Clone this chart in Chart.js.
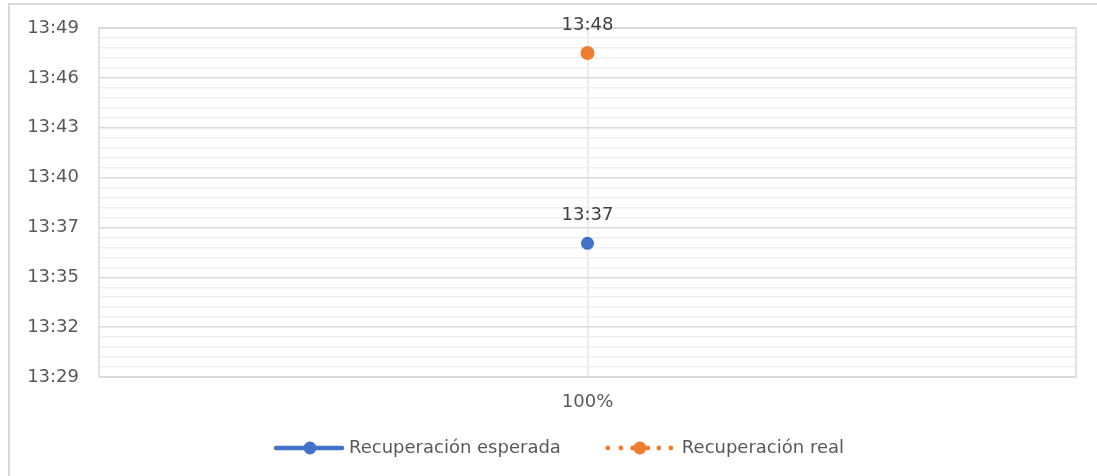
<!DOCTYPE html>
<html>
<head>
<meta charset="utf-8">
<script src="https://cdn.jsdelivr.net/npm/chart.js@4.4.1/dist/chart.umd.min.js"></script>
<style>
  html, body { margin: 0; padding: 0; background: #ffffff; }
  #wrap { width: 1097px; height: 476px; position: relative; }
</style>
</head>
<body>
<div id="wrap"><canvas id="c" width="1097" height="476"></canvas></div>
<script>
// ---- data ----
const categories = ['100%'];
const seriesNames = ['Recuperación esperada', 'Recuperación real'];
const expectedTimes = ['13:37'];
const realTimes = ['13:48'];
const yTickLabels = ['13:29', '13:32', '13:35', '13:37', '13:40', '13:43', '13:46', '13:49'];
// axis in fractions of a day (Excel style)
const yMinDay = 0.562;
const yMaxDay = 0.576;
const yMajorDay = 0.002;
const yMinorDay = 0.0004;

const toMinutes = s => { const p = s.split(':'); return (+p[0]) * 60 + (+p[1]); };
const fmt = m => { const t = Math.floor(m + 1e-6); const h = Math.floor(t / 60), mm = t % 60; return h + ':' + String(mm).padStart(2, '0'); };

const blue = '#4472C4', orange = '#ED7D31';
const FONT = 'DejaVu Sans';

function legendIcon(color, dotted) {
  const c = document.createElement('canvas');
  c.width = 140; c.height = 16;
  const g = c.getContext('2d');
  g.fillStyle = color; g.strokeStyle = color;
  const dot = (x, r) => { g.beginPath(); g.arc(x, 8, r, 0, Math.PI * 2); g.fill(); };
  if (!dotted) {
    g.lineWidth = 4.5; g.lineCap = 'round';
    g.beginPath(); g.moveTo(60, 8); g.lineTo(126, 8); g.stroke();
    dot(94, 6.5);
  } else {
    [59, 72, 99, 110, 122].forEach(x => dot(x, 2.4));
    dot(84, 2.6);
    dot(91, 6.5);
  }
  return c;
}
const icons = [legendIcon(blue, false), legendIcon(orange, true)];

const yTicks = [];
for (let i = 0; i <= Math.round((yMaxDay - yMinDay) / yMinorDay); i++) yTicks.push((yMinDay + i * yMinorDay) * 1440);

const decor = {
  id: 'decor',
  beforeDraw(chart) {
    const ctx = chart.ctx;
    ctx.save();
    ctx.strokeStyle = '#d9d9d9'; ctx.lineWidth = 2;
    ctx.strokeRect(9, 4, 1200, 600);
    ctx.restore();
  },
  beforeDatasetsDraw(chart) {
    const a = chart.chartArea, ctx = chart.ctx;
    ctx.save();
    ctx.strokeStyle = '#d9d9d9'; ctx.lineWidth = 1.5;
    ctx.strokeRect(a.left, a.top, a.right - a.left, a.bottom - a.top);
    ctx.restore();
  },
  afterDatasetsDraw(chart) {
    const ctx = chart.ctx;
    ctx.save();
    ctx.font = '18px "' + FONT + '"';
    ctx.fillStyle = '#404040';
    ctx.textAlign = 'center'; ctx.textBaseline = 'middle';
    chart.data.datasets.forEach((ds, i) => {
      chart.getDatasetMeta(i).data.forEach((pt, j) => {
        ctx.fillText(fmt(ds.data[j]), pt.x, pt.y - 28);
      });
    });
    ctx.restore();
  }
};

new Chart(document.getElementById('c'), {
  type: 'line',
  data: {
    labels: categories,
    datasets: [
      { label: seriesNames[0], data: expectedTimes.map(toMinutes), borderColor: blue, backgroundColor: blue,
        pointRadius: 6.5, pointBorderWidth: 0, showLine: false },
      { label: seriesNames[1], data: realTimes.map(toMinutes), borderColor: orange, backgroundColor: orange,
        pointRadius: 7, pointBorderWidth: 0, showLine: false }
    ]
  },
  options: {
    responsive: false,
    animation: false,
    layout: { padding: { left: 0, right: 21, top: 28, bottom: 9 } },
    plugins: {
      tooltip: { enabled: false },
      legend: {
        position: 'bottom',
        labels: {
          usePointStyle: true,
          pointStyleWidth: 108,
          padding: 4,
          color: '#595959',
          font: { family: FONT, size: 18 },
          generateLabels(chart) {
            return chart.data.datasets.map((ds, i) => ({
              text: ds.label, pointStyle: icons[i], fillStyle: ds.backgroundColor,
              strokeStyle: ds.borderColor, lineWidth: 0, hidden: false, datasetIndex: i, fontColor: '#595959'
            }));
          }
        }
      }
    },
    scales: {
      x: {
        type: 'category',
        offset: true,
        grid: { offset: false, color: '#ececec', lineWidth: 2, drawTicks: false },
        border: { display: false },
        ticks: { color: '#595959', font: { family: FONT, size: 18 }, padding: 15 },
        afterFit(s) { s.height = 58; }
      },
      y: {
        type: 'linear',
        min: yMinDay * 1440,
        max: yMaxDay * 1440,
        afterBuildTicks(s) { s.ticks = yTicks.map(v => ({ value: v })); },
        afterFit(s) { s.width = 99; s.paddingTop = 0; s.paddingBottom = 0; },
        grid: {
          drawTicks: false,
          color: c => (c.index % 5 === 0 ? '#d9d9d9' : '#f0f0f0'),
          lineWidth: 1.5
        },
        border: { display: false },
        ticks: {
          autoSkip: false,
          padding: 20,
          color: '#595959',
          font: { family: FONT, size: 18 },
          callback: (v, i) => (i % 5 === 0 ? yTickLabels[i / 5] : '')
        }
      }
    }
  },
  plugins: [decor]
});
</script>
</body>
</html>
